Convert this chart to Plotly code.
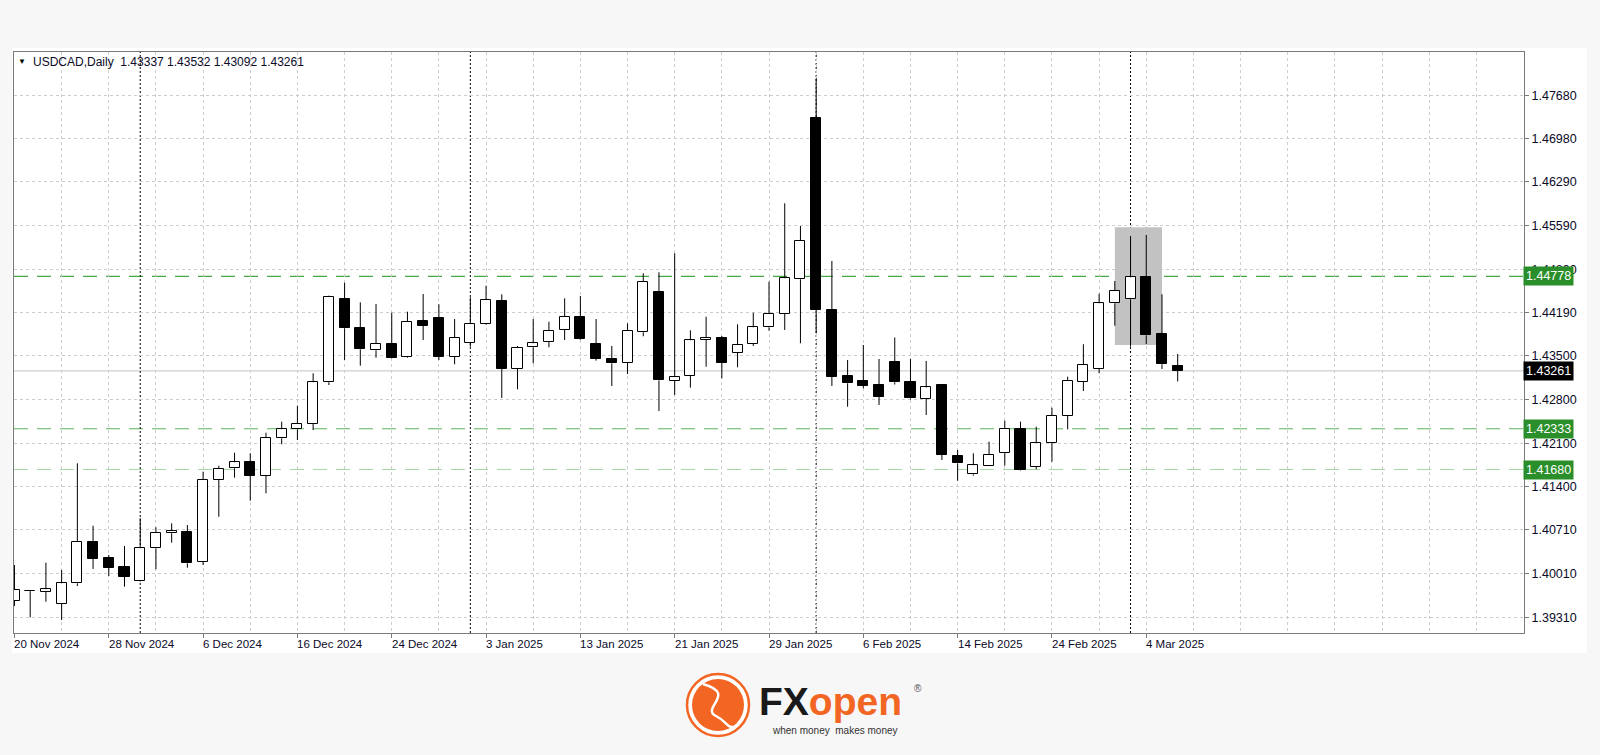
import plotly.graph_objects as go

# ---------------- data ----------------
dates = [
    "2024-11-20", "2024-11-21", "2024-11-22", "2024-11-25", "2024-11-26", "2024-11-27", "2024-11-28", "2024-11-29",
    "2024-12-02", "2024-12-03", "2024-12-04", "2024-12-05", "2024-12-06", "2024-12-09", "2024-12-10", "2024-12-11",
    "2024-12-12", "2024-12-13", "2024-12-16", "2024-12-17", "2024-12-18", "2024-12-19", "2024-12-20", "2024-12-23",
    "2024-12-24", "2024-12-26", "2024-12-27", "2024-12-30", "2024-12-31",
    "2025-01-02", "2025-01-03", "2025-01-06", "2025-01-07", "2025-01-08", "2025-01-09", "2025-01-10", "2025-01-13",
    "2025-01-14", "2025-01-15", "2025-01-16", "2025-01-17", "2025-01-20", "2025-01-21", "2025-01-22", "2025-01-23",
    "2025-01-24", "2025-01-27", "2025-01-28", "2025-01-29", "2025-01-30", "2025-01-31",
    "2025-02-03", "2025-02-04", "2025-02-05", "2025-02-06", "2025-02-07", "2025-02-10", "2025-02-11", "2025-02-12",
    "2025-02-13", "2025-02-14", "2025-02-17", "2025-02-18", "2025-02-19", "2025-02-20", "2025-02-21", "2025-02-24",
    "2025-02-25", "2025-02-26", "2025-02-27", "2025-02-28",
    "2025-03-03", "2025-03-04", "2025-03-05", "2025-03-06",
]

opens = [
    1.39572, 1.39737, 1.39721, 1.39524, 1.39855, 1.40518, 1.40266, 1.40117, 1.39892, 1.40417,
    1.40657, 1.40673, 1.40202, 1.41512, 1.41699, 1.41805, 1.41576, 1.42180, 1.42325, 1.42414,
    1.43078, 1.44414, 1.43949, 1.43591, 1.43692, 1.43479, 1.44066, 1.44104, 1.43489, 1.43704,
    1.44008, 1.44387, 1.43296, 1.43639, 1.43724, 1.43917, 1.44130, 1.43688, 1.43452, 1.43393,
    1.43880, 1.44531, 1.43104, 1.43182, 1.43756, 1.43793, 1.43553, 1.43692, 1.43960, 1.44173,
    1.44730, 1.47321, 1.44238, 1.43184, 1.43099, 1.43035, 1.43396, 1.43083, 1.42810, 1.43035,
    1.41897, 1.41603, 1.41741, 1.41949, 1.42329, 1.41725, 1.42100, 1.42543, 1.43091, 1.43292,
    1.44345, 1.44409, 1.44771, 1.43853, 1.43337,
]
highs = [
    1.40149, 1.39740, 1.40186, 1.40069, 1.41779, 1.40779, 1.40309, 1.40453, 1.40898, 1.40753,
    1.40817, 1.40790, 1.41645, 1.41741, 1.41949, 1.41940, 1.42270, 1.42447, 1.42703, 1.43223,
    1.44467, 1.44675, 1.44361, 1.44334, 1.44194, 1.44210, 1.44494, 1.44329, 1.44093, 1.44441,
    1.44627, 1.44489, 1.43660, 1.44093, 1.44050, 1.44425, 1.44462, 1.44093, 1.43660, 1.44024,
    1.44826, 1.44842, 1.45147, 1.43912, 1.44130, 1.43821, 1.44008, 1.44194, 1.44691, 1.45948,
    1.45584, 1.47953, 1.45023, 1.43436, 1.43676, 1.43452, 1.43797, 1.43452, 1.43420, 1.43046,
    1.41993, 1.41940, 1.42126, 1.42463, 1.42447, 1.42366, 1.42671, 1.43168, 1.43688, 1.44499,
    1.44702, 1.45424, 1.45440, 1.44489, 1.43532,
]
lows = [
    1.39491, 1.39310, 1.39560, 1.39267, 1.39812, 1.40085, 1.39972, 1.39801, 1.39885, 1.40080,
    1.40506, 1.40106, 1.40149, 1.40923, 1.41549, 1.41180, 1.41298, 1.42084, 1.42153, 1.42313,
    1.43035, 1.43436, 1.43344, 1.43473, 1.43463, 1.43468, 1.43756, 1.43436, 1.43367, 1.43649,
    1.44000, 1.42827, 1.42966, 1.43383, 1.43639, 1.43756, 1.43756, 1.43425, 1.43019, 1.43211,
    1.43816, 1.42618, 1.42875, 1.42992, 1.43328, 1.43142, 1.43319, 1.43660, 1.43906, 1.43917,
    1.43704, 1.43864, 1.43019, 1.42687, 1.42982, 1.42714, 1.43043, 1.42802, 1.42554, 1.41832,
    1.41500, 1.41581, 1.41735, 1.41741, 1.41665, 1.41683, 1.41805, 1.42325, 1.42939, 1.43223,
    1.43986, 1.43649, 1.43692, 1.43292, 1.43092,
]
closes = [
    1.39748, 1.39730, 1.39759, 1.39855, 1.40518, 1.40250, 1.40106, 1.39961, 1.40417, 1.40662,
    1.40699, 1.40176, 1.41512, 1.41688, 1.41796, 1.41576, 1.42190, 1.42325, 1.42414, 1.43078,
    1.44446, 1.43944, 1.43607, 1.43692, 1.43473, 1.44050, 1.43981, 1.43489, 1.43793, 1.44018,
    1.44398, 1.43296, 1.43633, 1.43704, 1.43906, 1.44130, 1.43768, 1.43457, 1.43383, 1.43906,
    1.44691, 1.43110, 1.43168, 1.43753, 1.43793, 1.43393, 1.43676, 1.43960, 1.44173, 1.44746,
    1.45344, 1.44238, 1.43168, 1.43062, 1.43019, 1.42847, 1.43078, 1.42822, 1.42995, 1.41913,
    1.41779, 1.41747, 1.41913, 1.42329, 1.41672, 1.42100, 1.42543, 1.43099, 1.43356, 1.44345,
    1.44547, 1.44762, 1.43832, 1.43367, 1.43261,
]

level_prices = [1.44778, 1.42333, 1.41680]
level_colors = ["#43a843", "#5db55d", "#a6d7a6"]
y_tick_values = [1.47680, 1.46980, 1.46290, 1.45590, 1.44890, 1.44190, 1.43500,
                 1.42800, 1.42100, 1.41400, 1.40710, 1.40010, 1.39310]
highlight_dates = ["2025-02-28", "2025-03-05"]
highlight_prices = [1.43676, 1.45564]
symbol = "USDCAD"
timeframe = "Daily"
month_names = ["Jan", "Feb", "Mar", "Apr", "May", "Jun", "Jul", "Aug", "Sep", "Oct", "Nov", "Dec"]

# ---------------- layout geometry ----------------
W_FIG, H_FIG = 1600, 755
M_L, M_R, M_T, M_B = 14, 76, 52, 122
PW = W_FIG - M_L - M_R
PH = H_FIG - M_T - M_B
FONT = "Liberation Sans, Arial, sans-serif"
GRID = "#cdcdcd"
FRAME = "#7a7a7a"


def pxx(x):
    return (x - M_L) / PW


def pxy(y):
    return (M_T + PH - y) / PH


xs = list(range(len(dates)))

# ---------------- traces ----------------
wx, wy = [], []
for i, o, h, l, c in zip(xs, opens, highs, lows, closes):
    top, bot = max(o, c), min(o, c)
    wx += [i, i, None, i, i, None]
    wy += [h, top, None, bot, l, None]

fig = go.Figure()
fig.add_trace(go.Scatter(x=wx, y=wy, mode="lines", line=dict(color="#000000", width=1),
                         hoverinfo="skip", showlegend=False))

bases = [min(o, c) for o, c in zip(opens, closes)]
heights = [max(abs(c - o), 0.00003) for o, c in zip(opens, closes)]
fills = ["#000000" if c < o else "#ffffff" for o, c in zip(opens, closes)]
fig.add_trace(go.Bar(x=xs, y=heights, base=bases, width=0.64,
                     marker=dict(color=fills, line=dict(color="#000000", width=1)),
                     hoverinfo="skip", showlegend=False))

# ---------------- shapes ----------------
shapes = []
# white chart panel
shapes.append(dict(type="rect", xref="paper", yref="paper", x0=pxx(12), x1=pxx(1587),
                   y0=pxy(653), y1=pxy(48), fillcolor="#ffffff", line=dict(width=0), layer="below"))
# horizontal levels
for p, col in zip(level_prices, level_colors):
    shapes.append(dict(type="line", xref="paper", yref="y", x0=0, x1=1, y0=p, y1=p,
                       line=dict(color=col, width=1.2, dash="14px,9px"), layer="between"))
# bid line
shapes.append(dict(type="line", xref="paper", yref="y", x0=0, x1=1, y0=closes[-1], y1=closes[-1],
                   line=dict(color="#c4c4c4", width=1), layer="between"))
# month separators
for i in range(1, len(dates)):
    if dates[i][5:7] != dates[i - 1][5:7]:
        shapes.append(dict(type="line", xref="x", yref="paper", x0=i, x1=i, y0=0, y1=1,
                           line=dict(color="#000000", width=1, dash="2px,2px"), layer="between"))
# highlight rectangle
hx0 = dates.index(highlight_dates[0])
hx1 = dates.index(highlight_dates[1])
shapes.append(dict(type="rect", xref="x", yref="y", x0=hx0, x1=hx1,
                   y0=highlight_prices[0], y1=highlight_prices[1],
                   fillcolor="#c2c2c2", line=dict(width=0), layer="between"))

# logo graphics
ORANGE = "#f26522"
shapes.append(dict(type="circle", xref="paper", yref="paper", x0=pxx(687), x1=pxx(749),
                   y0=pxy(736), y1=pxy(674), fillcolor="#ffffff", line=dict(color=ORANGE, width=2.5),
                   layer="above"))
shapes.append(dict(type="circle", xref="paper", yref="paper", x0=pxx(692), x1=pxx(744),
                   y0=pxy(731), y1=pxy(679), fillcolor=ORANGE, line=dict(width=0), layer="above"))
path = "M {:.5f},{:.5f} C {:.5f},{:.5f} {:.5f},{:.5f} {:.5f},{:.5f} C {:.5f},{:.5f} {:.5f},{:.5f} {:.5f},{:.5f}".format(
    pxx(703), pxy(684), pxx(738), pxy(694), pxx(700), pxy(708), pxx(716), pxy(716),
    pxx(728), pxy(722), pxx(726), pxy(728), pxx(735), pxy(727))
shapes.append(dict(type="path", xref="paper", yref="paper", path=path,
                   line=dict(color="#ffffff", width=2.5), layer="above"))

# ---------------- annotations ----------------
ann = []
ann.append(dict(xref="paper", yref="paper", x=pxx(21.5), y=pxy(62), text="▼", showarrow=False,
                xanchor="center", yanchor="middle", font=dict(family=FONT, size=8, color="#000000")))
ann.append(dict(xref="paper", yref="paper", x=pxx(31), y=pxy(61.5),
                text=f"{symbol},{timeframe}  {opens[-1]:.5f} {highs[-1]:.5f} {lows[-1]:.5f} {closes[-1]:.5f}",
                showarrow=False, xanchor="left", yanchor="middle",
                font=dict(family=FONT, size=12, color="#0a0a28")))

label_idx = list(range(0, len(dates), 6))
for i in label_idx:
    d = dates[i]
    txt = f"{int(d[8:10])} {month_names[int(d[5:7]) - 1]} {d[:4]}"
    ann.append(dict(xref="x", yref="paper", x=i, y=pxy(643.5), text=txt, showarrow=False,
                    xanchor="left", yanchor="middle", xshift=-2,
                    font=dict(family=FONT, size=11.5, color="#0a0a28")))

for p in level_prices:
    ann.append(dict(xref="paper", yref="y", x=1, y=p, text=f"{p:.5f}", showarrow=False,
                    xanchor="left", yanchor="middle", xshift=-1, bgcolor="#2a8f2a", borderpad=2,
                    font=dict(family=FONT, size=12.5, color="#ffffff")))
ann.append(dict(xref="paper", yref="y", x=1, y=closes[-1], text=f"{closes[-1]:.5f}", showarrow=False,
                xanchor="left", yanchor="middle", xshift=-1, bgcolor="#000000", borderpad=2,
                font=dict(family=FONT, size=12.5, color="#ffffff")))

# logo text
ann.append(dict(xref="paper", yref="paper", x=pxx(757), y=pxy(701),
                text=f"<b>FX</b><b><span style='color:{ORANGE}'>open</span></b>", showarrow=False,
                xanchor="left", yanchor="middle", font=dict(family=FONT, size=39, color="#1a1a1a")))
ann.append(dict(xref="paper", yref="paper", x=pxx(912), y=pxy(688), text="®", showarrow=False,
                xanchor="left", yanchor="middle", font=dict(family=FONT, size=10, color="#555555")))
ann.append(dict(xref="paper", yref="paper", x=pxx(770), y=pxy(731), text="when money  makes money",
                showarrow=False, xanchor="left", yanchor="middle",
                font=dict(family=FONT, size=10, color="#333333")))

fig.update_layout(
    width=W_FIG, height=H_FIG,
    margin=dict(l=M_L, r=M_R, t=M_T, b=M_B),
    paper_bgcolor="#f7f7f7", plot_bgcolor="#ffffff",
    showlegend=False, barmode="overlay", bargap=0,
    shapes=shapes, annotations=ann,
    xaxis=dict(range=[-0.03, 96.03], tickmode="array", tickvals=label_idx, showticklabels=False,
               ticks="outside", ticklen=4, tickcolor=FRAME,
               showgrid=True, gridcolor=GRID, griddash="3px,3px", gridwidth=1,
               minor=dict(tickmode="array", tickvals=list(range(0, 97, 3)), showgrid=True,
                          gridcolor=GRID, griddash="3px,3px", gridwidth=1, ticks=""),
               showline=True, mirror=True, linecolor=FRAME, linewidth=1, zeroline=False),
    yaxis=dict(side="right", range=[1.390583, 1.483743], tickmode="array", tickvals=y_tick_values,
               ticktext=[f"{v:.5f}" for v in y_tick_values],
               ticks="outside", ticklen=4, tickcolor=FRAME,
               tickfont=dict(family=FONT, size=12.5, color="#0a0a28"),
               showgrid=True, gridcolor=GRID, griddash="3px,3px", gridwidth=1,
               showline=True, mirror=True, linecolor=FRAME, linewidth=1, zeroline=False),
)

fig.write_html("out.html", config={"displayModeBar": False},
               post_script="document.body.style.margin='0px';document.body.style.overflow='hidden';")
